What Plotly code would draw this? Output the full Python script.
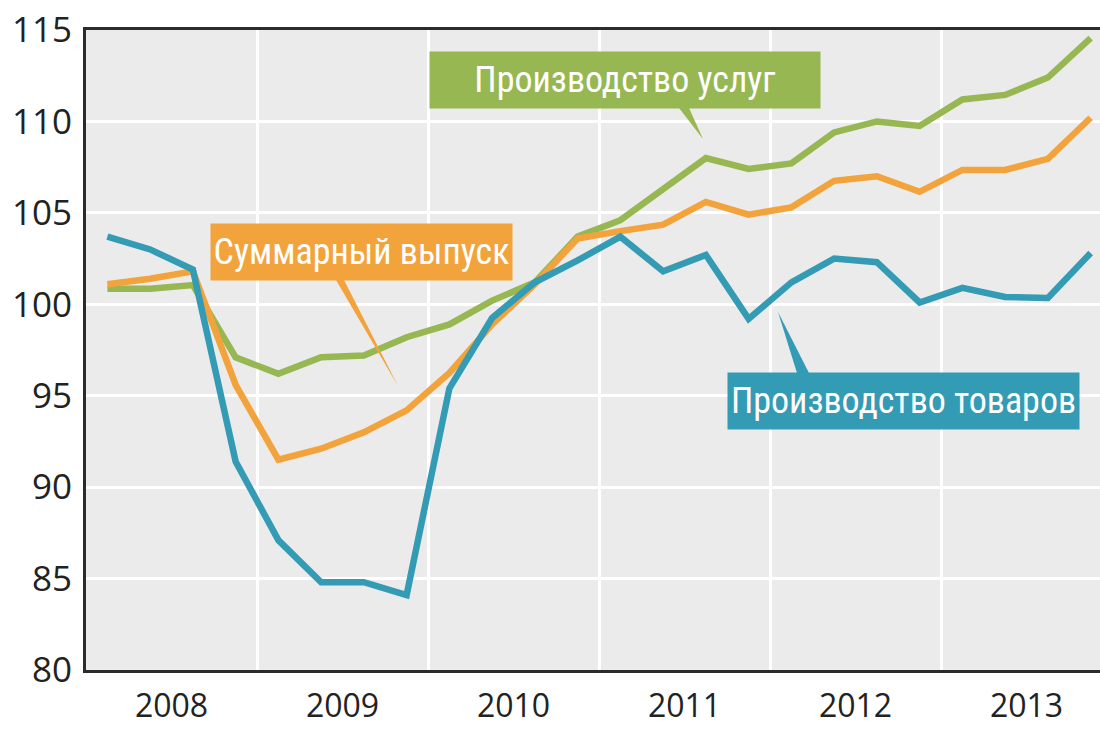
import plotly.graph_objects as go

years = [2008, 2009, 2010, 2011, 2012, 2013]
quarters = [y + (q + 0.5) / 4 for y in years for q in range(4)]

goods = [103.7, 103.0, 101.9, 91.4, 87.1, 84.8, 84.8, 84.1,
         95.4, 99.25, 101.2, 102.4, 103.7, 101.8, 102.7, 99.2,
         101.2, 102.5, 102.3, 100.1, 100.9, 100.4, 100.35, 102.8]
services = [100.85, 100.85, 101.05, 97.1, 96.2, 97.1, 97.2, 98.2,
            98.9, 100.2, 101.2, 103.7, 104.6, 106.3, 108.0, 107.4,
            107.7, 109.4, 110.0, 109.75, 111.2, 111.45, 112.4, 114.55]
total = [101.1, 101.4, 101.8, 95.6, 91.5, 92.1, 93.0, 94.2,
         96.25, 98.9, 101.1, 103.6, 104.0, 104.35, 105.6, 104.9,
         105.3, 106.75, 107.0, 106.15, 107.35, 107.35, 107.95, 110.2]

year_labels = [str(y) for y in years]
y_ticks = [80, 85, 90, 95, 100, 105, 110, 115]

GREEN = "#97b752"
ORANGE = "#f2a33c"
BLUE = "#339bb4"

fig = go.Figure()
fig.add_trace(go.Scatter(x=quarters, y=services, mode="lines",
                         line=dict(color=GREEN, width=6.5), name="Производство услуг"))
fig.add_trace(go.Scatter(x=quarters, y=total, mode="lines",
                         line=dict(color=ORANGE, width=6.5), name="Суммарный выпуск"))
fig.add_trace(go.Scatter(x=quarters, y=goods, mode="lines",
                         line=dict(color=BLUE, width=6.5), name="Производство товаров"))

# pixel -> data helpers for annotation placement
L, T, B = 86, 30, 670
YW = 171.0
def px(x):
    return 2008 + (x - L) / YW
def py(y):
    return 115 - (y - T) / ((B - T) / 35.0)

label_font = dict(family="Liberation Sans Narrow, Roboto Condensed, DejaVu Sans Condensed, sans-serif",
                  size=36, color="white")

labels = [
    ("Производство услуг", GREEN, 430, 820, 52, 108,
     [(679, 108), (689, 108), (703, 139)]),
    ("Суммарный выпуск", ORANGE, 211, 512, 224, 280,
     [(336, 280), (344, 280), (398, 386)]),
    ("Производство товаров", BLUE, 728, 1079, 373, 429,
     [(797, 373), (809, 373), (778, 312)]),
]

shapes = []
annotations = []
for text, col, x0, x1, y0, y1, tri in labels:
    annotations.append(dict(
        x=px((x0 + x1) / 2), y=py((y0 + y1) / 2), xref="x", yref="y",
        text=text, showarrow=False, bgcolor=col, font=label_font,
        width=x1 - x0, height=y1 - y0, borderpad=0, align="center", valign="middle"))
    path = "M {} {} L {} {} L {} {} Z".format(
        px(tri[0][0]), py(tri[0][1]), px(tri[1][0]), py(tri[1][1]), px(tri[2][0]), py(tri[2][1]))
    shapes.append(dict(type="path", path=path, xref="x", yref="y",
                       fillcolor=col, line=dict(width=0), layer="above"))

fig.update_layout(
    width=1100, height=729,
    margin=dict(l=86, r=0, t=30, b=59, autoexpand=False),
    paper_bgcolor="white", plot_bgcolor="#ebebeb",
    showlegend=False,
    shapes=shapes, annotations=annotations,
    xaxis=dict(
        range=[2008, 2008 + (1100 - L) / YW],
        tickmode="array", tickvals=[y + 0.5 for y in years], ticktext=year_labels,
        showgrid=False, ticks="", zeroline=False,
        minor=dict(tickmode="array", tickvals=years[1:], showgrid=True,
                   gridcolor="white", gridwidth=3, ticks=""),
        showline=True, linecolor="#2b2b2b", linewidth=3, mirror=True,
        tickfont=dict(family="Open Sans, sans-serif", size=32, color="#222222"),
        ticklabelstandoff=6,
    ),
    yaxis=dict(
        range=[80, 115], tickmode="array", tickvals=y_ticks,
        showgrid=True, gridcolor="white", gridwidth=3, ticks="", zeroline=False,
        showline=True, linecolor="#2b2b2b", linewidth=3,
        tickfont=dict(family="Open Sans, sans-serif", size=35, color="#222222"),
        ticklabelstandoff=4,
    ),
)

fig.write_html("out.html", config={"displayModeBar": False},
               post_script="document.body.style.margin='0';document.body.style.overflow='hidden';")
